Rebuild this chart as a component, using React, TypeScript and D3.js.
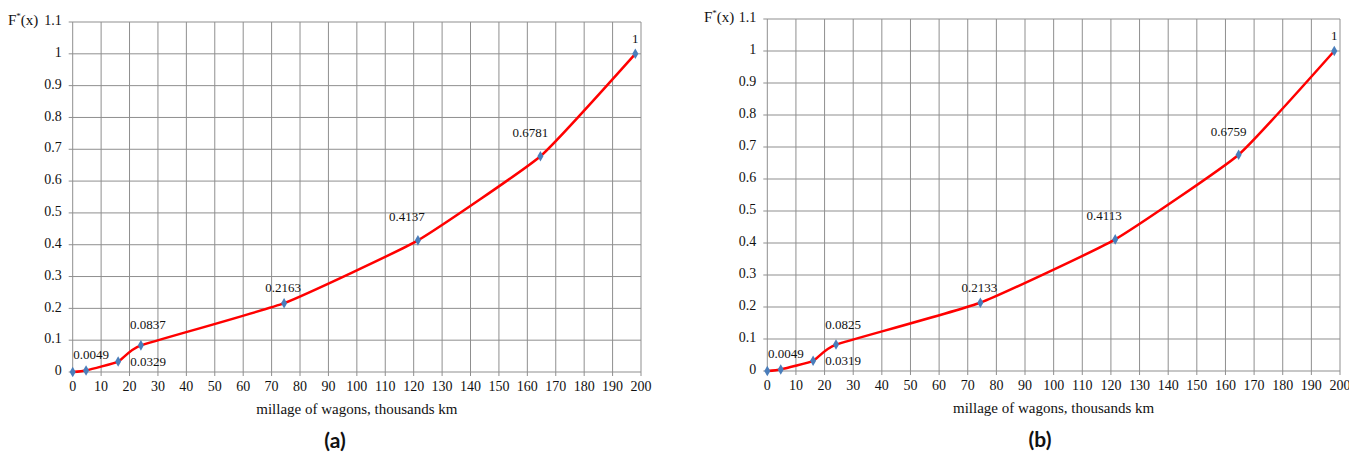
import React from "react";
import * as d3 from "d3";

const mileage = [0, 4.7, 16, 24, 74.4, 121.5, 164.6, 198];
const valuesA = [0, 0.0049, 0.0329, 0.0837, 0.2163, 0.4137, 0.6781, 1];
const valuesB = [0, 0.0049, 0.0319, 0.0825, 0.2133, 0.4113, 0.6759, 1];
const labelsA = ["", "0.0049", "0.0329", "0.0837", "0.2163", "0.4137", "0.6781", "1"];
const labelsB = ["", "0.0049", "0.0319", "0.0825", "0.2133", "0.4113", "0.6759", "1"];
const xTicks = d3.range(0, 201, 10);
const yTicks = d3.range(0, 11).map((i) => i / 10).concat([1.1]);
const yTickLabels = ["0", "0.1", "0.2", "0.3", "0.4", "0.5", "0.6", "0.7", "0.8", "0.9", "1", "1.1"];
const xTitle = "millage of wagons, thousands km";
const captions = ["a", "b"];

// label offsets (px) relative to the marker
const labelOffsets: [number, number][] = [
  [0, 0],
  [5, -14],
  [30, 1],
  [7, -19],
  [-1, -14],
  [-11, -22],
  [-10, -22],
  [0, -14],
];

const SERIF = "'Liberation Serif', 'Times New Roman', serif";
const GRID = "#8f8f8f";

type ChartProps = {
  left: number;
  right: number;
  top: number;
  bottom: number;
  values: number[];
  labels: string[];
  caption: string;
  captionX: number;
  fLabelX: number;
};

function Chart({ left, right, top, bottom, values, labels, caption, captionX, fLabelX }: ChartProps) {
  const x = d3.scaleLinear().domain([0, 200]).range([left, right]);
  const y = d3.scaleLinear().domain([0, 1.1]).range([bottom, top]);
  const pts: [number, number][] = mileage.map((m, i) => [x(m), y(values[i])]);
  const line = d3.line().curve(d3.curveCardinal.tension(0.6))(pts) || "";
  const diamond = d3.symbol().type(d3.symbolDiamond).size(32)() || "";
  const midX = (left + right) / 2;
  return (
    <g>
      {xTicks.map((t) => (
        <line key={"gx" + t} x1={x(t)} x2={x(t)} y1={top} y2={bottom + 4} stroke={GRID} strokeWidth={1} />
      ))}
      {yTicks.map((t) => (
        <line key={"gy" + t} x1={left - 4} x2={right} y1={y(t)} y2={y(t)} stroke={GRID} strokeWidth={1} />
      ))}
      {xTicks.map((t) => (
        <text key={"tx" + t} x={x(t)} y={bottom + 16} textAnchor="middle" dominantBaseline="middle" fontFamily={SERIF} fontSize={14} fill="#111">
          {t}
        </text>
      ))}
      {yTicks.map((t, i) => (
        <text key={"ty" + t} x={left - 11} y={y(t)} textAnchor="end" dominantBaseline="middle" fontFamily={SERIF} fontSize={14} fill="#111">
          {yTickLabels[i]}
        </text>
      ))}
      <text x={fLabelX} y={y(1.1)} dominantBaseline="middle" fontFamily={SERIF} fontSize={15} fill="#111">
        F<tspan fontSize={9} dy={-5}>*</tspan>
        <tspan dy={5}>(x)</tspan>
      </text>
      <path d={line} fill="none" stroke="#ff0000" strokeWidth={2.5} />
      {pts.map((p, i) => (
        <path key={"m" + i} d={diamond} transform={`translate(${p[0]},${p[1]})`} fill="#4a7ebb" />
      ))}
      {pts.map((p, i) =>
        labels[i] ? (
          <text key={"l" + i} x={p[0] + labelOffsets[i][0]} y={p[1] + labelOffsets[i][1]} textAnchor="middle" dominantBaseline="middle" fontFamily={SERIF} fontSize={13} fill="#111">
            {labels[i]}
          </text>
        ) : null
      )}
      <text x={midX} y={bottom + 39} textAnchor="middle" dominantBaseline="middle" fontFamily={SERIF} fontSize={15} fill="#111">
        {xTitle}
      </text>
      <text x={captionX} y={bottom + 71} textAnchor="middle" dominantBaseline="middle" fontFamily="Lato, 'Open Sans', sans-serif" fontWeight="bold" fontSize={21} fill="#111">
        ({caption})
      </text>
    </g>
  );
}

export default function App() {
  return (
    <svg width={1349} height={457} style={{ position: "absolute", left: 0, top: 0, background: "#fff" }}>
      <rect width={1349} height={457} fill="#fff" />
      <Chart left={72.7} right={641} top={22} bottom={372} values={valuesA} labels={labelsA} caption={captions[0]} captionX={335} fLabelX={8} />
      <Chart left={767.3} right={1340} top={19} bottom={371} values={valuesB} labels={labelsB} caption={captions[1]} captionX={1040} fLabelX={704} />
    </svg>
  );
}
